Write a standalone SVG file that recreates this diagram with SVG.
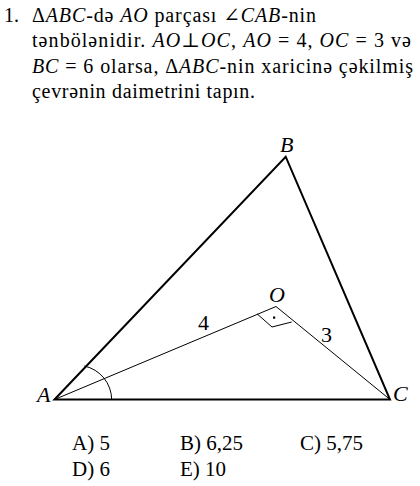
<svg xmlns="http://www.w3.org/2000/svg" width="420" height="486" viewBox="0 0 420 486">
<style>
.t{font-family:"Liberation Serif","DejaVu Serif","Times New Roman",serif;font-size:20px;fill:#000}
.m{font-style:italic}
.lbl{font-family:"Liberation Serif","DejaVu Serif","Times New Roman",serif;font-size:22px;fill:#000}
.ans{font-family:"Liberation Serif","DejaVu Serif","Times New Roman",serif;font-size:21px;fill:#000}
.thick{stroke:#000;stroke-width:2;fill:none;stroke-linejoin:miter}
.thin{stroke:#000;stroke-width:1;fill:none}
</style>
<rect width="420" height="486" fill="#fff"/>
<g id="question">
<text class="t" x="4" y="21.5">1.</text>
<text class="t" x="32" y="21.5" textLength="284" lengthAdjust="spacing">Δ<tspan class="m">ABC</tspan>-də <tspan class="m">AO</tspan> parçası ∠<tspan class="m">CAB</tspan>-nin</text>
<text class="t" x="32" y="47" textLength="379" lengthAdjust="spacing">tənbölənidir. <tspan class="m">AO</tspan>⊥<tspan class="m">OC</tspan>, <tspan class="m">AO</tspan> = 4, <tspan class="m">OC</tspan> = 3 və</text>
<text class="t" x="32" y="72.5" textLength="381" lengthAdjust="spacing"><tspan class="m">BC</tspan> = 6 olarsa, Δ<tspan class="m">ABC</tspan>-nin xaricinə çəkilmiş</text>
<text class="t" x="32" y="98" textLength="223" lengthAdjust="spacing">çevrənin daimetrini tapın.</text>
</g>
<g id="connectors">
<polygon class="thick" points="54.5,399.5 285.7,156.7 390,399.5"/>
<line class="thin" x1="54.5" y1="399.5" x2="276" y2="306.5"/>
<line class="thin" x1="276" y1="306.5" x2="390" y2="399.5"/>
<polyline class="thin" points="257,313.8 272,327 291.7,322"/>
<rect x="273" y="316.5" width="2.2" height="2.2" fill="#000"/>
<path class="thin" d="M84.3,366 A34.8,34.8 0 0 1 111.7,399.5"/>
</g>
<g id="node-A"><text class="lbl m" x="37" y="401.5">A</text></g>
<g id="node-B"><text class="lbl m" x="280" y="151.5">B</text></g>
<g id="node-C"><text class="lbl m" x="393" y="401">C</text></g>
<g id="node-O"><text class="lbl m" x="269" y="301.5">O</text></g>
<g id="label-4"><text class="lbl" x="198" y="330">4</text></g>
<g id="label-3"><text class="lbl" x="321" y="342">3</text></g>
<g id="answers">
<text class="ans" y="450"><tspan x="72">A) 5</tspan><tspan x="180">B) 6,25</tspan><tspan x="300">C) 5,75</tspan></text>
<text class="ans" y="476"><tspan x="72">D) 6</tspan><tspan x="180">E) 10</tspan></text>
</g>
</svg>
